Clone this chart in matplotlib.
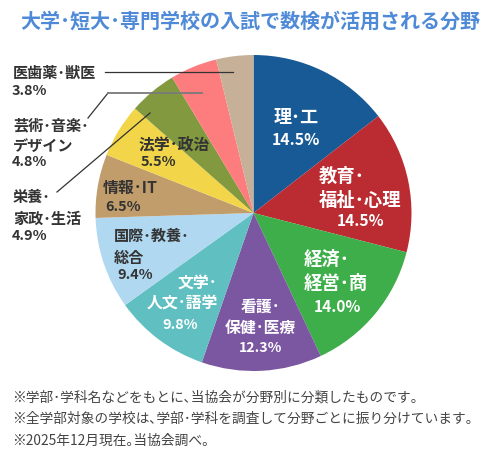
import matplotlib
matplotlib.use('Agg')
import matplotlib.pyplot as plt

plt.rcParams['font.family'] = ['Noto Sans CJK JP', 'DejaVu Sans']

title = '大学･短大･専門学校の入試で数検が活用される分野'
categories = ['理･工', '教育･福祉･心理', '経済･経営･商', '看護･保健･医療', '文学･人文･語学',
              '国際･教養･総合', '情報･IT', '法学･政治', '栄養･家政･生活', '芸術･音楽･デザイン', '医歯薬･獣医']
values = [14.5, 14.5, 14.0, 12.3, 9.8, 9.4, 6.5, 5.5, 4.9, 4.8, 3.8]
colors = ['#175a96', '#ba2c32', '#3dae49', '#7b56a1', '#60bfc0', '#b0d8f1',
          '#c29d6c', '#f2d548', '#82993f', '#fd7c7e', '#c6b098']
notes = ['※学部･学科名などをもとに､当協会が分野別に分類したものです。',
         '※全学部対象の学校は､学部･学科を調査して分野ごとに振り分けています。',
         '※2025年12月現在｡当協会調べ。']

W, H = 500, 450
fig = plt.figure(figsize=(5, 4.5), dpi=100)
ax = fig.add_axes([0, 0, 1, 1])
ax.pie(values, colors=colors, startangle=90, counterclock=False,
       center=(253.5, H - 213), radius=158, frame=True, wedgeprops={'linewidth': 0})
ax.set_xlim(0, W)
ax.set_ylim(0, H)
ax.set_aspect('equal')
ax.axis('off')


def T(x, y, s, c='#333333', size=11, ha='left', weight='bold'):
    ax.text(x, H - y, s, color=c, fontsize=size, ha=ha, va='center', weight=weight)


T(250, 21, title, c='#4f8ad8', size=14.45, ha='center')

# in-pie labels
T(296, 118, '理･工', 'white', 13, ha='center')
T(296, 140, '14.5%', 'white', 11.4, ha='center')
T(319, 176, '教育･', 'white', 13.2)
T(319, 200, '福祉･心理', 'white', 13.2)
T(361, 221, '14.5%', 'white', 11.2, ha='center')
T(304, 259, '経済･', 'white', 13.2)
T(304, 283, '経営･商', 'white', 13.2)
T(337, 307, '14.0%', 'white', 11.2, ha='center')
T(241, 307, '看護･', 'white', 11.4)
T(225, 328, '保健･医療', 'white', 11.4)
T(261, 348, '12.3%', 'white', 10.2, ha='center')
T(178, 284, '文学･', 'white', 11.4)
T(147, 304, '人文･語学', 'white', 11.4)
T(180, 325, '9.8%', 'white', 10.4, ha='center')
T(114, 236, '国際･教養･', size=10.9)
T(114, 258, '総合', size=10.9)
T(117, 275, '9.4%', size=10.4)
T(103, 188, '情報･IT', size=11.4)
T(105, 207, '6.5%', size=10.4)
T(139, 145, '法学･政治', size=11.4)
T(141, 162, '5.5%', size=10.4)

# outside labels
T(13, 73, '医歯薬･獣医', size=10.9)
T(12, 91, '3.8%', size=10.4)
T(13, 125, '芸術･音楽･', size=10.9)
T(13, 146, 'デザイン', size=10.9)
T(12, 162, '4.8%', size=10.4)
T(13, 197, '栄養･', size=10.9)
T(13, 219, '家政･生活', size=10.9)
T(12, 236, '4.9%', size=10.4)

# leader lines
ax.plot([105, 233], [H - 72, H - 72], color='#333333', lw=0.9)
ax.plot([88, 108], [H - 118, H - 93], color='#333333', lw=0.9)
ax.plot([108, 202], [H - 93, H - 93], color='#7a7a7a', lw=1.3)
ax.plot([57, 150], [H - 192, H - 113], color='#333333', lw=0.9)

for y, s in zip([398, 419, 441], notes):
    T(12, y, s, c='#444444', size=9.88, weight='normal')

fig.savefig('out.png', dpi=100)
